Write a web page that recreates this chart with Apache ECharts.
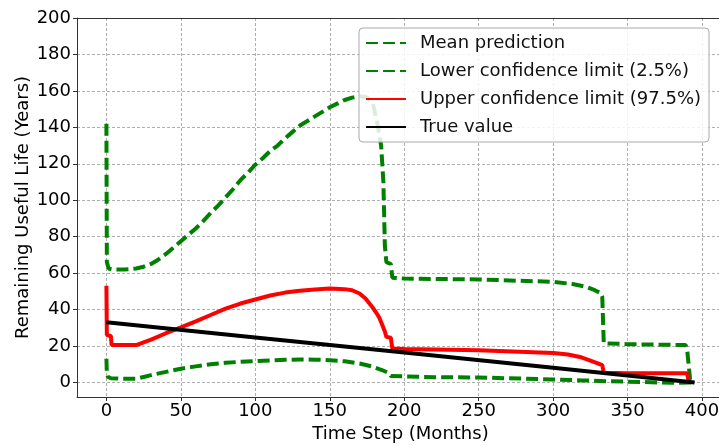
<!DOCTYPE html>
<html>
<head>
<meta charset="utf-8">
<script src="https://cdn.jsdelivr.net/npm/echarts@6/dist/echarts.min.js"></script>
<style>
  html, body { margin: 0; padding: 0; background: #fff; }
  #chart { width: 719px; height: 446px; }
</style>
</head>
<body>
<div id="chart"></div>
<script>
// Tick positions
const xTicks = [0, 50, 100, 150, 200, 250, 300, 350, 400];
const yTicks = [0, 20, 40, 60, 80, 100, 120, 140, 160, 180, 200];

// Mean prediction [month, years]
const meanPrediction = [
  [0, 142], [0.3, 66], [1.5, 62.5], [4, 62], [12, 62], [20, 62.5], [25, 63.5],
  [30, 65], [35, 67.5], [40, 70.5], [45, 74], [50, 77.5], [55, 81], [60, 84.5],
  [65, 88.5], [70, 93], [75, 97], [80, 101.5], [85, 106], [90, 111], [95, 115],
  [100, 119.5], [105, 123], [110, 127], [115, 130], [120, 134], [125, 137.5],
  [130, 141], [135, 143.5], [140, 146], [145, 148.5], [150, 151], [155, 153],
  [160, 155], [165, 156.3], [170, 157], [175, 156.5], [179, 153], [182, 142],
  [184.5, 130], [186, 110], [187, 75], [188, 66], [191, 65], [192, 57.5],
  [200, 57], [250, 56.5], [300, 55.2], [313, 54], [322, 52.5], [328, 50.6],
  [332, 49], [333, 47], [334, 21.5], [350, 21], [389, 20.5], [390, 18],
  [392, 1.5], [393, 1]
];

// Lower confidence limit (2.5%)
const lowerLimit = [
  [0, 13], [0.3, 5], [1, 3], [3, 2.3], [10, 2], [20, 2], [25, 3], [30, 4],
  [40, 5.8], [50, 7.5], [60, 8.8], [70, 10], [80, 10.8], [90, 11.3], [100, 11.7],
  [110, 12], [120, 12.4], [130, 12.6], [140, 12.5], [150, 12.2], [160, 11.6],
  [170, 10.4], [178, 8.8], [185, 6.8], [190, 5], [191, 3.5], [192, 3],
  [220, 2.9], [250, 2.7], [280, 2.1], [300, 1.6], [320, 1.1], [335, 0.7],
  [350, 0.4], [380, -0.2], [393, 0]
];

// Upper confidence limit (97.5%)
const upperLimit = [
  [0, 53], [0.3, 26], [3, 25.5], [3.5, 20.5], [20, 20.5], [25, 22], [30, 23.5],
  [40, 27], [50, 30.2], [60, 33.5], [70, 37], [80, 40.5], [90, 43.3], [100, 45.5],
  [110, 47.7], [120, 49.3], [130, 50.3], [140, 51], [150, 51.5], [160, 51.2],
  [165, 50.6], [170, 48.8], [174, 46], [178, 42], [181, 38.5], [183, 36],
  [185, 32], [187, 28], [188, 25], [191, 24.5], [192, 18.6], [200, 18.4],
  [250, 17.7], [300, 16.2], [310, 15.3], [318, 14], [325, 12], [330, 10.5],
  [333, 9.5], [334, 5.3], [350, 5.1], [390, 5], [391, 0.5]
];

// True remaining useful life
const trueValue = [[0, 33], [100, 24.7], [200, 16.4], [300, 8.1], [395, 0]];

const FONT = 'DejaVu Sans';
const GRID_LINE = { show: true, lineStyle: { color: '#b0b0b0', width: 1, type: [3, 2] } };

const chart = echarts.init(document.getElementById('chart'));
chart.setOption({
  animation: false,
  backgroundColor: '#fff',
  textStyle: { fontFamily: FONT },
  grid: { left: 77, top: 18, width: 647, height: 379, containLabel: false, outerBoundsMode: 'none' },
  xAxis: [{
    type: 'value',
    min: -19.75, max: 414.75,
    name: 'Time Step (Months)',
    nameLocation: 'middle',
    nameGap: 26,
    nameTextStyle: { fontFamily: FONT, fontSize: 18, color: '#000' },
    axisLine: { show: true, onZero: false, lineStyle: { color: '#333', width: 1 } },
    axisTick: { show: true, inside: false, length: 4, customValues: xTicks, lineStyle: { color: '#333' } },
    axisLabel: { customValues: xTicks, margin: 5, fontFamily: FONT, fontSize: 18, color: '#000' },
    splitLine: GRID_LINE
  }, {
    type: 'value',
    position: 'top',
    min: -19.75, max: 414.75,
    axisLine: { show: true, onZero: false, lineStyle: { color: '#333', width: 1 } },
    axisTick: { show: false },
    axisLabel: { show: false },
    splitLine: { show: false }
  }],
  yAxis: {
    type: 'value',
    min: -8, max: 200,
    name: 'Remaining Useful Life (Years)',
    nameLocation: 'middle',
    nameGap: 45,
    nameMoveOverlap: false,
    nameTextStyle: { fontFamily: FONT, fontSize: 18, color: '#000' },
    axisLine: { show: true, onZero: false, lineStyle: { color: '#333', width: 1 } },
    axisTick: { show: true, inside: false, length: 4, customValues: yTicks, lineStyle: { color: '#333' } },
    axisLabel: { customValues: yTicks, margin: 6, fontFamily: FONT, fontSize: 18, color: '#000' },
    splitLine: GRID_LINE
  },
  legend: {
    orient: 'vertical',
    left: 359, top: 28,
    padding: [5, 8, 5, 6],
    itemWidth: 40,
    itemHeight: 14,
    itemGap: 8,
    backgroundColor: 'rgba(255,255,255,0.85)',
    borderColor: '#aaa',
    borderWidth: 1,
    borderRadius: 4,
    itemStyle: { opacity: 0 },
    textStyle: { fontFamily: FONT, fontSize: 18, lineHeight: 20, color: '#111', padding: [0, 0, 0, 9] },
    data: ['Mean prediction', 'Lower confidence limit (2.5%)', 'Upper confidence limit (97.5%)', 'True value']
  },
  series: [
    {
      name: 'Mean prediction', type: 'line', data: meanPrediction,
      symbol: 'none', showSymbol: false,
      lineStyle: { color: '#008000', width: 4, type: [12, 5] },
      itemStyle: { color: '#008000' }
    },
    {
      name: 'Lower confidence limit (2.5%)', type: 'line', data: lowerLimit,
      symbol: 'none', showSymbol: false,
      lineStyle: { color: '#008000', width: 4, type: [12, 5] },
      itemStyle: { color: '#008000' }
    },
    {
      name: 'Upper confidence limit (97.5%)', type: 'line', data: upperLimit,
      symbol: 'none', showSymbol: false,
      lineStyle: { color: '#ff0000', width: 4 },
      itemStyle: { color: '#ff0000' }
    },
    {
      name: 'True value', type: 'line', data: trueValue,
      symbol: 'none', showSymbol: false,
      lineStyle: { color: '#000000', width: 4 },
      itemStyle: { color: '#000000' }
    }
  ]
});
</script>
</body>
</html>
